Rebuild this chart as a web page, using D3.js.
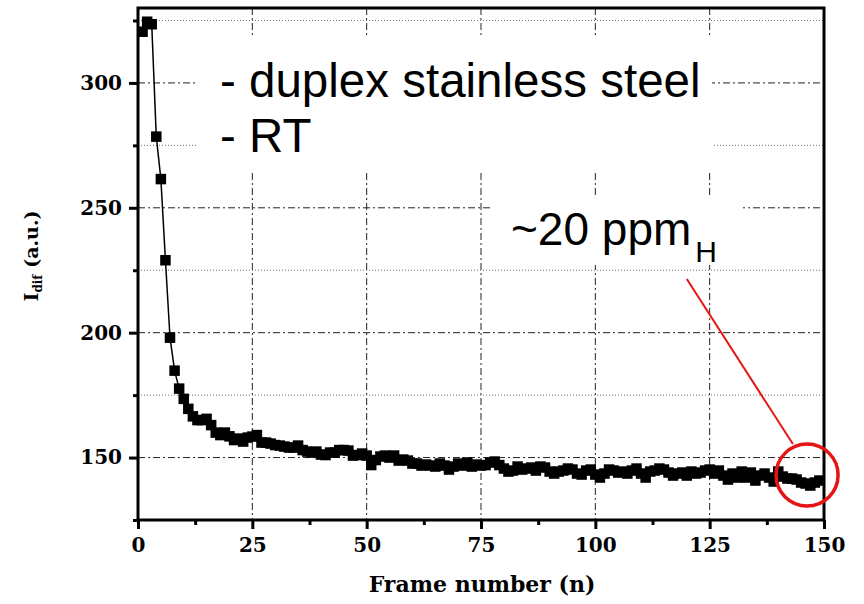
<!DOCTYPE html>
<html>
<head>
<meta charset="utf-8">
<script src="https://cdn.jsdelivr.net/npm/d3@7"></script>
<style>
  body { margin: 0; background: #fff; }
  svg { display: block; }
</style>
</head>
<body>
<div id="chart"></div>
<script>
// d3: hydrogen diffusion intensity vs frame number
// =================================================

var idif = [
  320.5, 324.5, 323.5, 278.5, 261.5, 229, 198, 184.8, 177.6, 173.5,
  169.5, 166.5, 165, 165, 165.5, 163, 160, 159, 160, 158.5,
  157, 157.6, 156.4, 158, 158.4, 159, 156, 156, 155.6, 155,
  154.8, 154.4, 154, 154, 154.8, 153, 152.4, 152, 152.4, 151.2,
  151, 152, 152, 153, 153, 152.8, 150.8, 151, 151.6, 150.8,
  147, 149, 150.4, 150.8, 150, 150.8, 148.8, 149.2, 148.8, 147.6,
  147.6, 146.8, 147.2, 146.8, 146.4, 147.6, 146.8, 145.2, 146.4, 147.6,
  146.8, 148, 146.4, 147.2, 146.8, 147, 148, 148.4, 147, 145.6,
  144.4, 144.8, 146.4, 145.2, 145.6, 146, 144.8, 146.4, 146, 144.4,
  143.6, 144.4, 144.8, 145.6, 145.2, 143.6, 143.2, 144.8, 145.2, 143.2,
  142, 143.6, 145.2, 144.8, 144, 144.4, 143.6, 144.8, 145.6, 143.6,
  142, 144.4, 144.8, 145.6, 145.2, 144, 142.8, 143.6, 144, 142.8,
  144.4, 143.6, 144, 144.8, 145.2, 143.6, 144.8, 142.8, 141.2, 143.6,
  142, 144.4, 142, 144, 140.8, 142.8, 143.6, 142, 140.4, 144.4,
  142.4, 141.6, 141.6, 141.2, 140, 139.6, 138.8, 140, 140.8
];
var frames = idif.map(function(v, i) { return i + 1; });

var xMajor = [0, 25, 50, 75, 100, 125, 150];
var xMinor = [12.5, 37.5, 62.5, 87.5, 112.5, 137.5];
var yMajor = [150, 200, 250, 300];
var yMinor = [125, 175, 225, 275, 325];

var width = 864,
    height = 604;

var svg = d3.select("#chart").append("svg")
    .attr("width", width)
    .attr("height", height);

var x = d3.scaleLinear().domain([0, 150]).range([138, 824]);
var y = d3.scaleLinear().domain([125, 330]).range([520, 8]);

var tickFont = "'DejaVu Serif', serif";

// grid - majors dash-dot, y minors dotted
svg.append("g").selectAll("line")
    .data(xMajor.slice(1, -1))
    .enter().append("line")
    .attr("x1", d => x(d)).attr("x2", d => x(d))
    .attr("y1", y(330)).attr("y2", y(125))
    .attr("stroke", "#222").attr("stroke-width", 1)
    .attr("stroke-dasharray", "7,3,2,3");

svg.append("g").selectAll("line")
    .data(yMajor)
    .enter().append("line")
    .attr("x1", x(0)).attr("x2", x(150))
    .attr("y1", d => y(d)).attr("y2", d => y(d))
    .attr("stroke", "#222").attr("stroke-width", 1)
    .attr("stroke-dasharray", "7,3,2,3");

svg.append("g").selectAll("line")
    .data(yMinor.slice(1))
    .enter().append("line")
    .attr("x1", x(0)).attr("x2", x(150))
    .attr("y1", d => y(d)).attr("y2", d => y(d))
    .attr("stroke", "#777").attr("stroke-width", 1)
    .attr("stroke-dasharray", "1,2");

// white boxes behind the annotations (they hide the grid)
svg.append("rect").attr("x", 197).attr("y", 35).attr("width", 515).attr("height", 138).attr("fill", "#fff");
svg.append("rect").attr("x", 490).attr("y", 195).attr("width", 253).attr("height", 70).attr("fill", "#fff");

// data: line + squares
var line = d3.line()
    .x(function(d, i) { return x(frames[i]); })
    .y(function(d) { return y(d); });

svg.append("path")
    .datum(idif)
    .attr("fill", "none")
    .attr("stroke", "#000")
    .attr("stroke-width", 1.5)
    .attr("d", line);

var sq = 10.5;
svg.append("g").selectAll("rect")
    .data(idif)
    .enter().append("rect")
    .attr("x", function(d, i) { return x(frames[i]) - sq / 2; })
    .attr("y", function(d) { return y(d) - sq / 2; })
    .attr("width", sq).attr("height", sq)
    .attr("fill", "#000");

// axes
svg.append("g")
    .attr("transform", "translate(0," + y(125) + ")")
    .call(d3.axisBottom(x).tickValues(xMajor).tickSize(9).tickSizeOuter(0).tickPadding(9));
svg.append("g")
    .attr("transform", "translate(0," + y(125) + ")")
    .call(d3.axisBottom(x).tickValues(xMinor).tickSize(5).tickFormat(""))
    .call(g => g.select(".domain").remove());

svg.append("g")
    .attr("transform", "translate(" + x(0) + ",0)")
    .call(d3.axisLeft(y).tickValues(yMajor).tickSize(9).tickSizeOuter(0).tickPadding(7));
svg.append("g")
    .attr("transform", "translate(" + x(0) + ",0)")
    .call(d3.axisLeft(y).tickValues(yMinor).tickSize(5).tickFormat(""))
    .call(g => g.select(".domain").remove());

svg.selectAll(".tick line").attr("stroke-width", 3);
svg.selectAll(".tick text")
    .attr("font-family", tickFont)
    .attr("font-weight", "bold")
    .attr("font-size", 20)
    .attr("fill", "#000");

// frame (top + right) and thick axis lines
svg.append("rect")
    .attr("x", x(0)).attr("y", y(330))
    .attr("width", x(150) - x(0)).attr("height", y(125) - y(330))
    .attr("fill", "none").attr("stroke", "#000").attr("stroke-width", 3);

// axis titles
svg.append("text")
    .attr("x", (x(0) + x(150)) / 2 + 1).attr("y", 592)
    .attr("text-anchor", "middle")
    .attr("font-family", tickFont).attr("font-weight", "bold").attr("font-size", 22)
    .text("Frame number (n)");

var yl = svg.append("text")
    .attr("transform", "translate(38,256) rotate(-90)")
    .attr("text-anchor", "middle")
    .attr("font-family", tickFont).attr("font-weight", "bold").attr("font-size", 19);
yl.append("tspan").text("I");
yl.append("tspan").attr("font-size", 12).attr("dy", 4).text("dif");
yl.append("tspan").attr("dy", -4).text(" (a.u.)");

// annotations
var noteFont = "'Liberation Sans', Arial, sans-serif";
svg.append("text").attr("x", 220).attr("y", 97)
    .attr("font-family", noteFont).attr("font-size", 47.5)
    .text("- duplex stainless steel");
svg.append("text").attr("x", 220).attr("y", 152)
    .attr("font-family", noteFont).attr("font-size", 47.5)
    .text("- RT");

var ppm = svg.append("text").attr("x", 511).attr("y", 245)
    .attr("font-family", noteFont).attr("font-size", 46);
ppm.append("tspan").text("~20 ppm");
ppm.append("tspan").attr("font-size", 30).attr("dx", 4).attr("dy", 17).text("H");

// red pointer to the tail
svg.append("line")
    .attr("x1", x(120)).attr("y1", y(221.5))
    .attr("x2", x(143.2)).attr("y2", y(155.4))
    .attr("stroke", "#e51515").attr("stroke-width", 2);
svg.append("circle")
    .attr("cx", x(146.3)).attr("cy", y(143))
    .attr("r", 31)
    .attr("fill", "none").attr("stroke", "#e51515").attr("stroke-width", 3.5);
</script>
</body>
</html>
